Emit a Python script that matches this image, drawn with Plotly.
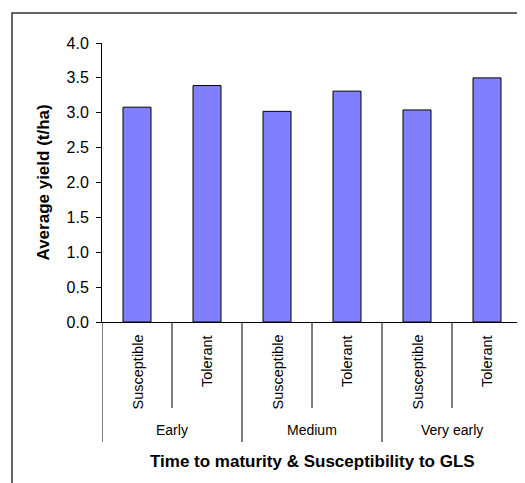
import plotly.graph_objects as go

groups = ["Early", "Medium", "Very early"]
subgroups = ["Susceptible", "Tolerant"]
values = [3.08, 3.39, 3.02, 3.31, 3.04, 3.50]
y_title = "Average yield (t/ha)"
x_title = "Time to maturity & Susceptibility to GLS"

n = len(groups) * len(subgroups)
xpos = list(range(n))
sub_labels = [s for g in groups for s in subgroups]

FONT = "Liberation Sans, Arial, sans-serif"
OFF = 8  # page body margin
W, H = 525 - OFF, 483 - OFF
ML, MR, MT, MB = 102 - OFF, 3, 43 - OFF, 161
plot_h = H - MT - MB
plot_w = W - ML - MR

def py(pix):
    # window pixel y -> paper y
    return (H - MB - (pix - OFF)) / plot_h

def px(pix):
    return ((pix - OFF) - ML) / plot_w

fig = go.Figure()
fig.add_trace(go.Bar(
    x=xpos, y=values, width=0.4,
    marker=dict(color="#8080FF", line=dict(color="#000000", width=1)),
))

shapes = []
for i in range(n + 1):
    xb = i - 0.5
    is_group = (i % len(subgroups) == 0)
    shapes.append(dict(type="line", xref="x", yref="paper",
                       x0=xb, x1=xb, y0=0, y1=py(442) if is_group else py(408),
                       line=dict(color="#000000", width=1)))
shapes.append(dict(type="rect", xref="paper", yref="paper",
                   x0=px(12), x1=px(560), y0=py(13), y1=py(520),
                   line=dict(color="#333333", width=1.5)))

annotations = []
for i, lab in enumerate(sub_labels):
    annotations.append(dict(x=i, y=py(333), xref="x", yref="paper",
                            text=lab, textangle=-90, showarrow=False,
                            xanchor="center", yanchor="top",
                            font=dict(family=FONT, size=14.5, color="#000000")))
for gi, g in enumerate(groups):
    cx = gi * len(subgroups) + (len(subgroups) - 1) / 2
    annotations.append(dict(x=cx, y=py(430), xref="x", yref="paper",
                            text=g, showarrow=False, xanchor="center", yanchor="middle",
                            font=dict(family=FONT, size=14, color="#000000")))
annotations.append(dict(x=(n - 1) / 2, y=py(462), xref="x", yref="paper",
                        text="<b>" + x_title + "</b>", showarrow=False,
                        xanchor="center", yanchor="middle",
                        font=dict(family=FONT, size=17, color="#000000")))
annotations.append(dict(x=px(43), y=0.5, xref="paper", yref="paper",
                        text="<b>" + y_title + "</b>", textangle=-90, showarrow=False,
                        xanchor="center", yanchor="middle",
                        font=dict(family=FONT, size=17, color="#000000")))

fig.update_layout(
    width=W, height=H,
    margin=dict(l=ML, r=MR, t=MT, b=MB),
    paper_bgcolor="white", plot_bgcolor="white",
    showlegend=False,
    font=dict(family=FONT, color="#000000"),
    shapes=shapes, annotations=annotations,
    xaxis=dict(range=[-0.5, n - 0.5], showticklabels=False, ticks="",
               showline=True, linecolor="#000000", linewidth=1,
               showgrid=False, zeroline=False),
    yaxis=dict(range=[0, 4], dtick=0.5, tick0=0, tickformat=".1f",
               ticks="outside", ticklen=5, tickcolor="#000000",
               ticklabelstandoff=4,
               showline=True, linecolor="#000000", linewidth=1,
               showgrid=False, zeroline=False,
               tickfont=dict(family=FONT, size=16, color="#000000")),
)

fig.write_html("out.html")
